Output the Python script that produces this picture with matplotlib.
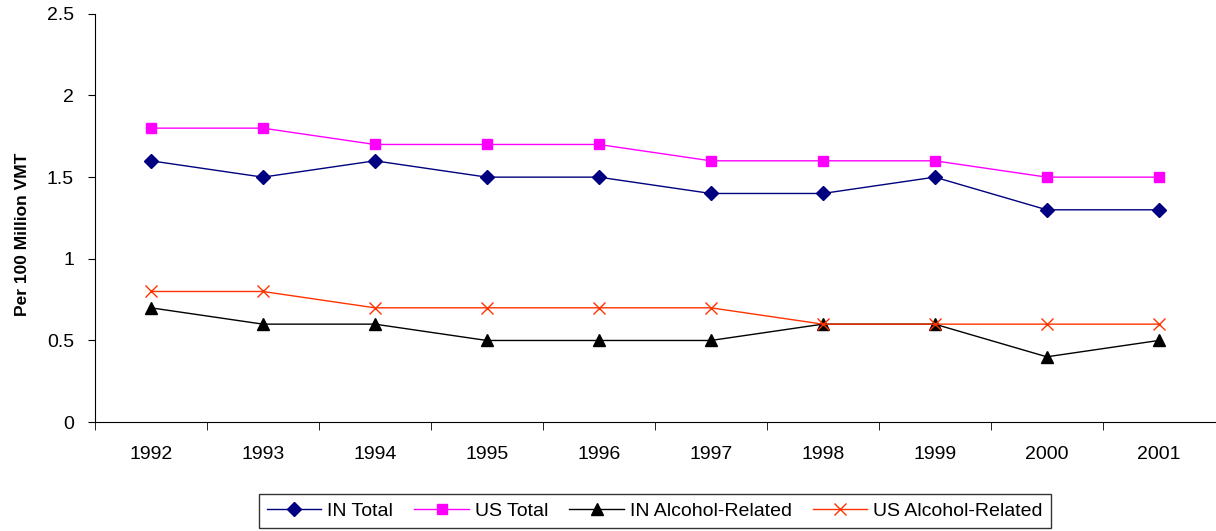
import matplotlib
matplotlib.use('Agg')
import matplotlib.pyplot as plt
import numpy as np

plt.rcParams['font.family'] = ['Liberation Sans', 'DejaVu Sans']

years = ['1992', '1993', '1994', '1995', '1996', '1997', '1998', '1999', '2000', '2001']
in_total = [1.6, 1.5, 1.6, 1.5, 1.5, 1.4, 1.4, 1.5, 1.3, 1.3]
us_total = [1.8, 1.8, 1.7, 1.7, 1.7, 1.6, 1.6, 1.6, 1.5, 1.5]
in_alcohol = [0.7, 0.6, 0.6, 0.5, 0.5, 0.5, 0.6, 0.6, 0.4, 0.5]
us_alcohol = [0.8, 0.8, 0.7, 0.7, 0.7, 0.7, 0.6, 0.6, 0.6, 0.6]

fig = plt.figure(figsize=(12.16, 5.31), dpi=100)
ax = fig.add_axes([0.078, 0.205, 0.921, 0.769])

x = np.arange(len(years))
ax.plot(x, in_total, color='#000080', lw=1, marker='D', ms=7.5, label='IN Total')
ax.plot(x, us_total, color='#FF00FF', lw=1, marker='s', ms=6.5, label='US Total')
ax.plot(x, in_alcohol, color='black', lw=1, marker='^', ms=9, label='IN Alcohol-Related')
ax.plot(x, us_alcohol, color='#FF3300', lw=1, marker='x', ms=9, mew=1, label='US Alcohol-Related')

ax.set_xlim(-0.5, len(years) - 0.5)
ax.set_ylim(0, 2.5)
ax.set_yticks([0, 0.5, 1, 1.5, 2, 2.5])
ax.set_yticklabels(['0', '0.5', '1', '1.5', '2', '2.5'])
ax.set_xticks(x)
ax.set_xticklabels(years)
ax.set_xticks(np.arange(-0.5, len(years) - 1), minor=True)
ax.tick_params(axis='x', which='major', length=0, pad=17, labelsize=14)
ax.tick_params(axis='x', which='minor', length=6, direction='out')
ax.tick_params(axis='y', length=5, direction='out', pad=10, labelsize=14)
ax.spines['top'].set_visible(False)
ax.spines['right'].set_visible(False)
ax.set_ylabel('Per 100 Million VMT', fontsize=12.5, fontweight='bold')
ax.yaxis.set_label_coords(-0.058, 0.46)

leg = ax.legend(loc='upper center', bbox_to_anchor=(0.5, -0.177), ncol=4, frameon=True,
                fancybox=False, edgecolor='black', fontsize=14, handlelength=2.8,
                columnspacing=1.1, handletextpad=0.3, borderaxespad=0, borderpad=0.4)
leg.get_frame().set_linewidth(1)

fig.savefig('out.png', dpi=100)
